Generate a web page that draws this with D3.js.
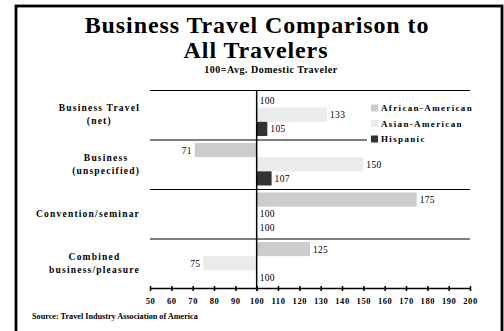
<!DOCTYPE html>
<html>
<head>
<meta charset="utf-8">
<script src="https://cdn.jsdelivr.net/npm/d3@7/dist/d3.min.js"></script>
<style>
  html, body { margin: 0; padding: 0; background: #fff; }
  svg { display: block; }
  text { font-family: "Liberation Serif", "Times New Roman", serif; }
</style>
</head>
<body>
<svg id="chart" width="504" height="331"></svg>
<script>
// Index values (100 = average domestic traveler)
const categories = [
  ["Business Travel", "(net)"],
  ["Business", "(unspecified)"],
  ["Convention/seminar"],
  ["Combined", "business/pleasure"]
];
const seriesNames = ["African-American", "Asian-American", "Hispanic"];
const africanAmerican = [100, 71, 175, 125];
const asianAmerican = [133, 150, 100, 75];
const hispanic = [105, 107, 100, 100];
const xTicks = [50, 60, 70, 80, 90, 100, 110, 120, 130, 140, 150, 160, 170, 180, 190, 200];
const seriesColors = ["#cccccc", "#ebebeb", "#333333"];

const svg = d3.select("#chart");

// Frame
svg.append("rect")
  .attr("x", 16).attr("y", 6)
  .attr("width", 486).attr("height", 340)
  .attr("fill", "none").attr("stroke", "#000").attr("stroke-width", 2.8);

// Titles
svg.append("text").attr("x", 257).attr("y", 33)
  .attr("text-anchor", "middle").attr("font-size", 24).attr("font-weight", "bold")
  .attr("letter-spacing", 0.9)
  .text("Business Travel Comparison to");
svg.append("text").attr("x", 256).attr("y", 58)
  .attr("text-anchor", "middle").attr("font-size", 24).attr("font-weight", "bold")
  .attr("letter-spacing", 0.9)
  .text("All Travelers");
svg.append("text").attr("x", 271).attr("y", 73)
  .attr("text-anchor", "middle").attr("font-size", 10).attr("font-weight", "bold")
  .attr("letter-spacing", 0.5)
  .text("100=Avg. Domestic Traveler");

// Scales
const x = d3.scaleLinear().domain([50, 200]).range([150, 470]);
const y0 = d3.scaleBand().domain(d3.range(categories.length)).range([90, 288]);
const y1 = d3.scaleBand().domain(seriesNames).range([3.5, y0.bandwidth() - 3.5]);

const rows = categories.map((c, i) => ({
  label: c,
  values: [africanAmerican[i], asianAmerican[i], hispanic[i]]
}));

// Row separators
svg.append("g").selectAll("line")
  .data(d3.range(categories.length))
  .join("line")
  .attr("x1", x(50)).attr("x2", x(200))
  .attr("y1", d => y0(d) + 0.5).attr("y2", d => y0(d) + 0.5)
  .attr("stroke", "#000").attr("stroke-width", 1.2);

// Bars and value labels
const groups = svg.append("g").selectAll("g")
  .data(rows)
  .join("g")
  .attr("transform", (d, i) => `translate(0,${y0(i)})`);

groups.selectAll("rect")
  .data(d => d.values.map((v, j) => ({ v, s: seriesNames[j], j })))
  .join("rect")
  .attr("x", d => x(Math.min(d.v, 100)))
  .attr("width", d => Math.abs(x(d.v) - x(100)))
  .attr("y", d => y1(d.s))
  .attr("height", y1.bandwidth())
  .attr("fill", d => seriesColors[d.j]);

groups.selectAll("text.val")
  .data(d => d.values.map((v, j) => ({ v, s: seriesNames[j], j })))
  .join("text")
  .attr("class", "val")
  .attr("x", d => d.v < 100 ? x(d.v) - 3 : x(d.v) + 3)
  .attr("y", d => y1(d.s) + y1.bandwidth() / 2 + 3.5)
  .attr("text-anchor", d => d.v < 100 ? "end" : "start")
  .attr("font-size", 9.5)
  .attr("letter-spacing", 0.3)
  .text(d => d.v);

// Category labels: block right-aligned, lines centred within block
groups.each(function(d) {
  const g = d3.select(this);
  const n = d.label.length;
  const t = g.append("text")
    .attr("font-size", 9.5).attr("font-weight", "bold")
    .attr("letter-spacing", 1.2)
    .attr("text-anchor", "middle");
  const spans = t.selectAll("tspan").data(d.label).join("tspan").text(s => s);
  let w = 0;
  spans.each(function() { w = Math.max(w, this.getComputedTextLength()); });
  const cx = 140 - w / 2;
  const mid = y0.bandwidth() / 2;
  spans.attr("x", cx)
    .attr("y", (s, k) => mid + 3 + (k - (n - 1) / 2) * 13);
});

// Axes
const xAxis = d3.axisBottom(x).tickValues(xTicks).tickSize(0).tickFormat(d3.format("d"));
const ax = svg.append("g").attr("transform", `translate(0,288)`).call(xAxis);
ax.select(".domain").attr("stroke", "#000").attr("stroke-width", 1.5);
ax.selectAll(".tick line").remove();
ax.selectAll(".tick").append("line")
  .attr("y1", -2).attr("y2", 3).attr("stroke", "#000").attr("stroke-width", 1.5);
ax.selectAll(".tick text")
  .attr("y", 10).attr("dy", "0.71em")
  .attr("font-family", "'Liberation Serif', serif")
  .attr("font-size", 8.5).attr("font-weight", "bold")
  .attr("letter-spacing", 0.6)
  .attr("fill", "#000");

// Baseline at 100
svg.append("line")
  .attr("x1", x(100)).attr("x2", x(100))
  .attr("y1", 90).attr("y2", 291)
  .attr("stroke", "#000").attr("stroke-width", 1.5);

// Legend
const legend = svg.append("g");
legend.append("rect")
  .attr("x", 367).attr("y", 99).attr("width", 108).attr("height", 49).attr("fill", "#fff");
const items = legend.selectAll("g.item")
  .data(seriesNames)
  .join("g")
  .attr("class", "item")
  .attr("transform", (d, i) => `translate(371,${108 + i * 15.5})`);
items.append("rect")
  .attr("x", 0).attr("y", -3.5).attr("width", 7).attr("height", 7)
  .attr("fill", (d, i) => seriesColors[i]);
items.append("text")
  .attr("x", 10).attr("y", 3.2)
  .attr("font-size", 9).attr("font-weight", "bold")
  .attr("letter-spacing", 1.35)
  .text(d => d);

// Source
svg.append("text").attr("x", 32).attr("y", 319)
  .attr("font-size", 8.2).attr("font-weight", "bold")
  .text("Source: Travel Industry Association of America");
</script>
</body>
</html>
